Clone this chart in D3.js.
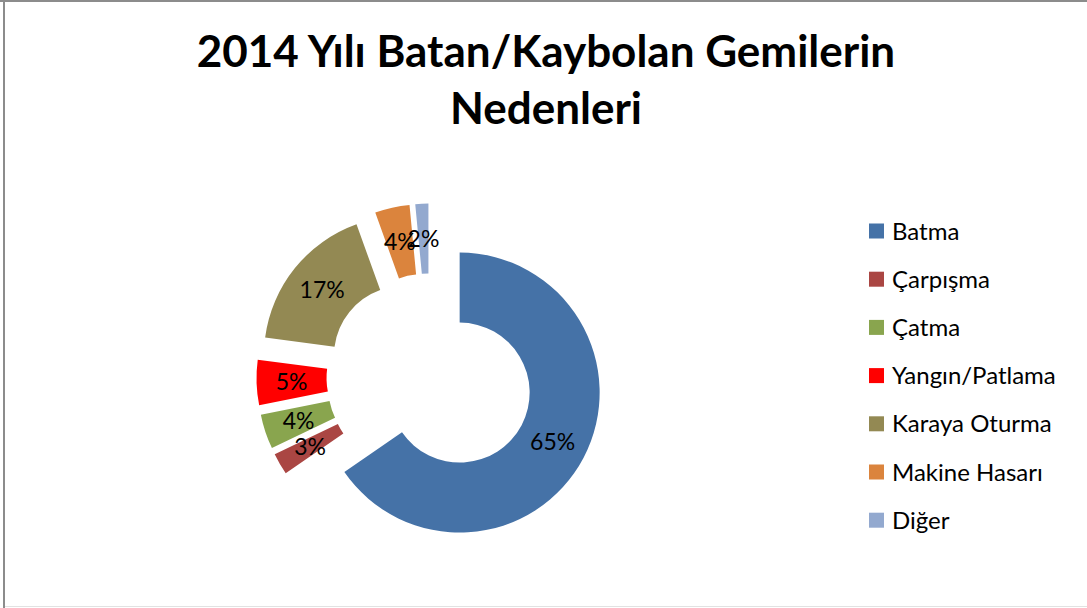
<!DOCTYPE html>
<html>
<head>
<meta charset="utf-8">
<script src="https://cdn.jsdelivr.net/npm/d3@7"></script>
<style>
  body { margin: 0; background: #fff; }
  svg { display: block; }
</style>
</head>
<body>
<div class="chart"></div>
<script>
const width = 1087, height = 608;

const categories = ["Batma", "Çarpışma", "Çatma", "Yangın/Patlama", "Karaya Oturma", "Makine Hasarı", "Diğer"];
// shares in % (labels show them rounded)
const values = [65.4, 2.5, 4.0, 5.2, 17.4, 4.0, 1.5];
const colors = ["#4572a7", "#aa4643", "#89a54e", "#ff0000", "#938953", "#db843d", "#93a9cf"];

const center = { x: 430, y: 377 };
const outerR = 140, innerR = 70, explode = 33.5;

const svg = d3.select(".chart").append("svg")
  .attr("width", width)
  .attr("height", height);

// frame
svg.append("rect").attr("x", 0).attr("y", 0).attr("width", width).attr("height", height).attr("fill", "#fff");
svg.append("line").attr("x1", 0).attr("x2", width).attr("y1", 1).attr("y2", 1).attr("stroke", "#8c8c8c").attr("stroke-width", 2);
svg.append("line").attr("x1", 4).attr("x2", 4).attr("y1", 0).attr("y2", height).attr("stroke", "#8c8c8c").attr("stroke-width", 2);
svg.append("line").attr("x1", 5).attr("x2", width).attr("y1", 606.5).attr("y2", 606.5).attr("stroke", "#e2e2e2").attr("stroke-width", 1);

// title
const title = svg.append("g").attr("font-family", "Lato, 'Open Sans', sans-serif").attr("font-weight", "bold")
  .attr("font-size", 44).attr("text-anchor", "middle").attr("fill", "#000");
title.append("text").attr("x", 546).attr("y", 67).text("2014 Yılı Batan/Kaybolan Gemilerin");
title.append("text").attr("x", 546).attr("y", 124).text("Nedenleri");

const pie = d3.pie().sort(null).value(d => d)(values);
const arc = d3.arc().innerRadius(innerR).outerRadius(outerR);

const slices = svg.append("g").attr("transform", `translate(${center.x},${center.y})`)
  .selectAll("g").data(pie).join("g")
  .attr("transform", d => {
    const a = (d.startAngle + d.endAngle) / 2;
    return `translate(${explode * Math.sin(a)},${-explode * Math.cos(a)})`;
  });

slices.append("path")
  .attr("d", arc)
  .attr("fill", (d, i) => colors[i]);

slices.append("text")
  .attr("transform", d => `translate(${arc.centroid(d)})`)
  .attr("text-anchor", "middle")
  .attr("dy", "0.36em")
  .attr("font-family", "Lato, 'Open Sans', sans-serif")
  .attr("font-size", 23)
  .attr("fill", "#000")
  .text(d => Math.round(d.value) + "%");

// legend
const legend = svg.append("g").selectAll("g").data(categories).join("g")
  .attr("transform", (d, i) => `translate(869,${231 + i * 48.2})`);
legend.append("rect").attr("x", 0).attr("y", -7.5).attr("width", 15).attr("height", 15)
  .attr("fill", (d, i) => colors[i]);
legend.append("text").attr("x", 23).attr("dy", "0.36em")
  .attr("font-family", "Lato, 'Open Sans', sans-serif").attr("font-size", 24).attr("fill", "#000")
  .text(d => d);
</script>
</body>
</html>
